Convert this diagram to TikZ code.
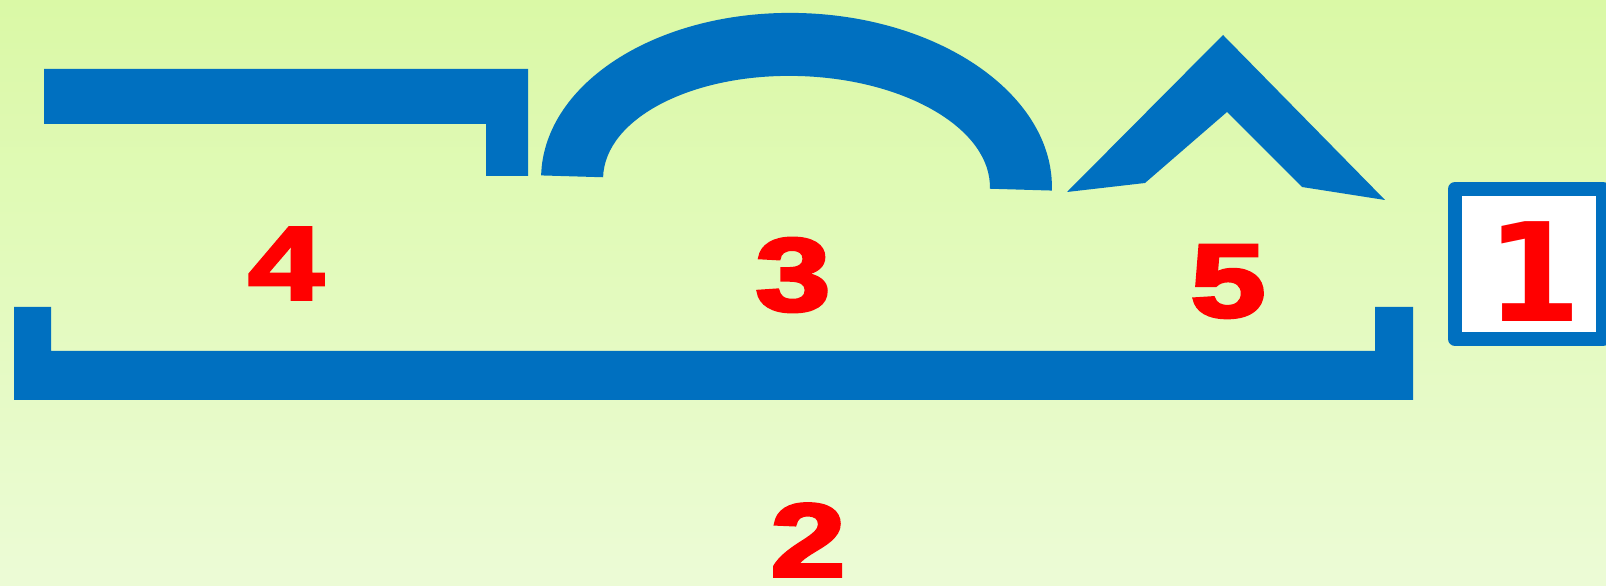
\documentclass[tikz,border=0pt]{standalone}
\usepackage{fontspec}
\usepackage{graphicx}
\setmainfont{Liberation Sans}
\newfontfamily\dejavu{DejaVu Sans}
\newfontfamily\heavynum[FakeBold=3]{Liberation Sans Bold}
\definecolor{shapeblue}{HTML}{0070C0}
\definecolor{bgtop}{HTML}{DAF9A6}
\definecolor{bgbot}{HTML}{ECFBD6}
\definecolor{numred}{HTML}{FF0000}
\newcommand{\widedigit}[1]{\scalebox{1.3}[1]{#1}}
\tikzset{
  part/.style={fill=shapeblue, draw=none},
  numlbl/.style={text=numred, inner sep=0pt, font=\heavynum\fontsize{104}{104}\selectfont},
  boxone/.style={draw=shapeblue, line width=14pt, fill=white, line join=round,
    minimum width=148pt, minimum height=150pt, inner sep=0pt, outer sep=0pt},
}
\begin{document}
\begin{tikzpicture}[x=1pt,y=1pt]
  \shade[top color=bgtop, bottom color=bgbot] (0,0) rectangle (1606,586);
  \useasboundingbox (0,0) rectangle (1606,586);
  % part 4
  \fill[part] (44,517) -- (528,517) -- (528,410) -- (486,410) -- (486,462) -- (44,462) -- cycle;
  % part 2 (bracket)
  \fill[part] (14,279) -- (51,279) -- (51,235) -- (1375,235) -- (1375,279) -- (1413,279) -- (1413,186) -- (14,186) -- cycle;
  % part 3 (arch)
  \fill[part, rotate around={-1.7:(796.5,403)}] (541,403) arc[start angle=180, end angle=0, x radius=255.5pt, y radius=170pt]
     -- (990,403) arc[start angle=0, end angle=180, x radius=193.5pt, y radius=107pt] -- cycle;
  % part 5 (caret)
  \fill[part] (1067,394) -- (1223,551) -- (1385,386) -- (1302,399) -- (1227,474) -- (1145,403) -- cycle;
  % box 1
  \node[boxone] (box1) at (1529,322) {};
  \node[text=numred, inner sep=0pt, font=\dejavu\bfseries\fontsize{137}{137}\selectfont] (n1) at (1534,314) {1};
  % labels
  \node[numlbl] (n4) at (286,322.5) {\widedigit{4}};
  \node[numlbl] (n3) at (793,311) {\widedigit{3}};
  \node[numlbl] (n5) at (1228,304.5) {\widedigit{5}};
  \node[numlbl] (n2) at (808,46) {\widedigit{2}};
\end{tikzpicture}
\end{document}
